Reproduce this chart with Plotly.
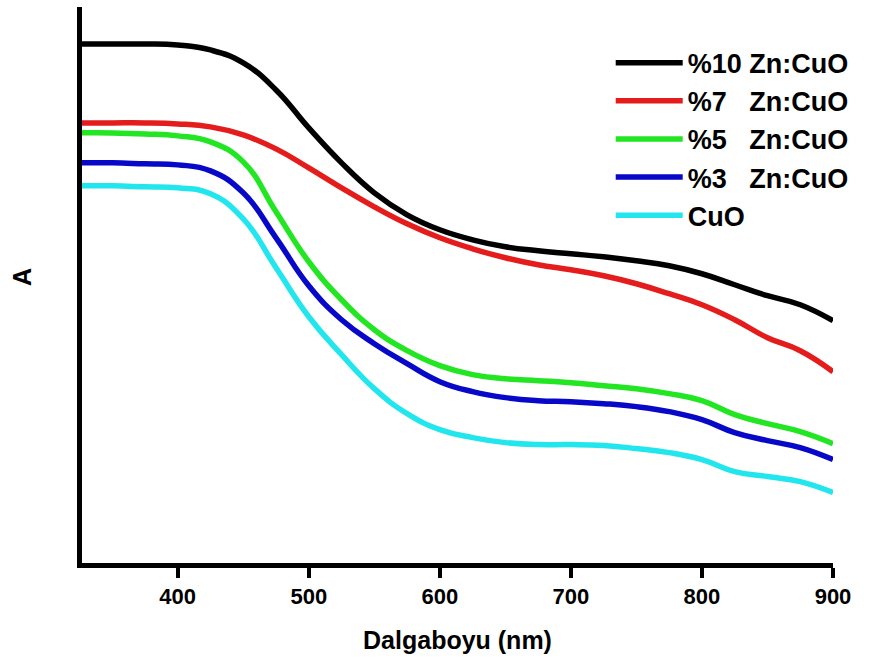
import plotly.graph_objects as go

# Wavelength grid (nm)
wavelength = [325, 350, 375, 400, 425, 450, 475, 500, 525, 550, 575, 600,
              625, 650, 675, 700, 725, 750, 775, 800, 825, 850, 875, 900]

# Absorbance (arbitrary units) for each sample
a_zn10 = [2.610, 2.610, 2.610, 2.605, 2.580, 2.515, 2.380, 2.190, 2.015, 1.865,
          1.755, 1.680, 1.630, 1.595, 1.575, 1.560, 1.545, 1.525, 1.500, 1.460,
          1.405, 1.350, 1.305, 1.225]
a_zn7 = [2.215, 2.215, 2.215, 2.210, 2.195, 2.155, 2.085, 1.990, 1.890, 1.795,
         1.710, 1.640, 1.585, 1.540, 1.505, 1.480, 1.450, 1.410, 1.360, 1.305,
         1.230, 1.140, 1.075, 0.970]
a_zn5 = [2.165, 2.165, 2.160, 2.150, 2.120, 2.020, 1.770, 1.520, 1.330, 1.180,
         1.075, 1.000, 0.955, 0.935, 0.925, 0.915, 0.900, 0.885, 0.860, 0.825,
         0.755, 0.710, 0.670, 0.610]
a_zn3 = [2.015, 2.015, 2.010, 2.005, 1.975, 1.865, 1.640, 1.400, 1.230, 1.110,
         1.010, 0.920, 0.870, 0.840, 0.825, 0.820, 0.810, 0.795, 0.770, 0.730,
         0.665, 0.625, 0.590, 0.530]
a_cuo = [1.900, 1.900, 1.895, 1.890, 1.860, 1.735, 1.490, 1.245, 1.055, 0.885,
         0.760, 0.680, 0.640, 0.615, 0.605, 0.605, 0.600, 0.585, 0.565, 0.530,
         0.470, 0.445, 0.420, 0.365]

series_names = ["%10 Zn:CuO", "%7   Zn:CuO", "%5   Zn:CuO", "%3   Zn:CuO", "CuO"]
series_colors = ["#000000", "#e41c1c", "#22e622", "#0808c8", "#22e6ee"]
series_values = [a_zn10, a_zn7, a_zn5, a_zn3, a_cuo]

x_ticks = [400, 500, 600, 700, 800, 900]

FONT = "Liberation Sans, Arial, sans-serif"

fig = go.Figure()
for name, color, vals in zip(series_names, series_colors, series_values):
    fig.add_trace(go.Scatter(
        x=wavelength, y=vals, mode="lines", name=name,
        line=dict(color=color, width=5.5, shape="spline", smoothing=1.3),
    ))

fig.update_layout(
    width=871, height=662,
    margin=dict(l=82, r=38, t=7, b=99),
    plot_bgcolor="white", paper_bgcolor="white",
    font=dict(family=FONT, color="black", weight="bold"),
    showlegend=True,
    legend=dict(
        x=0.704, y=0.943, xanchor="left", yanchor="top",
        bgcolor="rgba(0,0,0,0)", borderwidth=0,
        font=dict(family=FONT, size=27, color="black", weight="bold"),
        itemwidth=67, tracegroupgap=0,
    ),
    xaxis=dict(
        range=[326.95, 900], showgrid=False, zeroline=False,
        showline=True, linecolor="black", linewidth=5,
        ticks="outside", ticklen=10, tickwidth=4, tickcolor="black",
        tickvals=x_ticks, ticktext=[str(v) for v in x_ticks],
        tickfont=dict(family=FONT, size=22, color="black", weight="bold"),
        title=dict(text="Dalgaboyu (nm)", standoff=25,
                   font=dict(family=FONT, size=25, color="black", weight="bold")),
    ),
    yaxis=dict(
        range=[0.0125, 2.795], showgrid=False, zeroline=False,
        showline=True, linecolor="black", linewidth=5,
        ticks="", showticklabels=False,
    ),
    annotations=[dict(
        text="A", textangle=-90, showarrow=False,
        xref="paper", yref="paper", x=-0.0799, y=0.5144,
        xanchor="center", yanchor="middle",
        font=dict(family=FONT, size=25, color="black", weight="bold"),
    )],
)

fig.write_html("out.html")
